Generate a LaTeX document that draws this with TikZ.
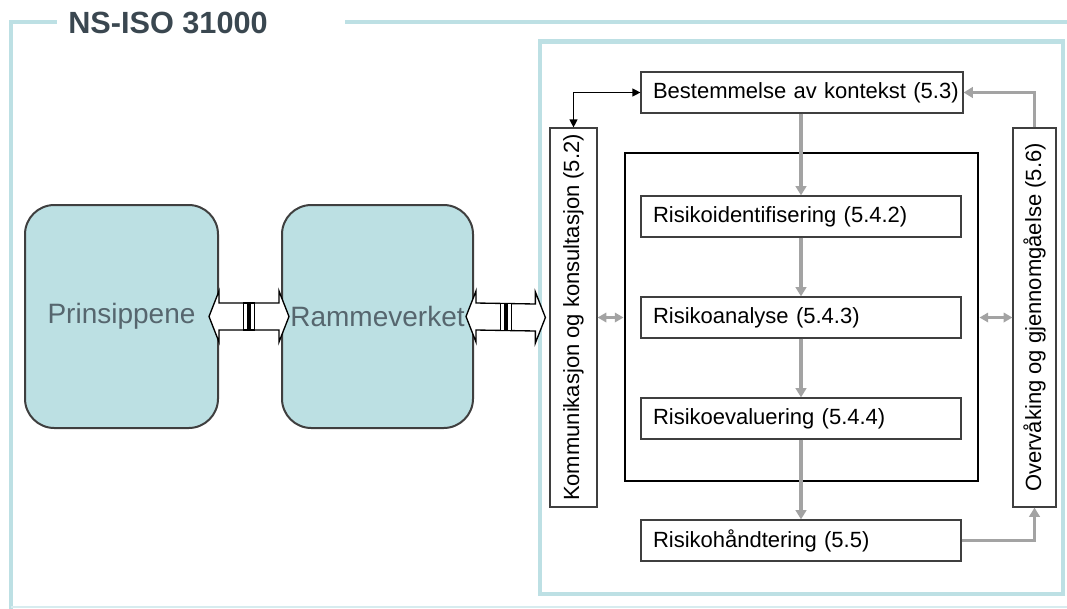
\documentclass[tikz,border=0pt]{standalone}
\usepackage{fontspec}
\setmainfont{Liberation Sans}
\usetikzlibrary{arrows.meta,calc}
\definecolor{frameteal}{HTML}{BDE0E4}
\definecolor{boxfill}{HTML}{BCE0E3}
\definecolor{flowgray}{HTML}{A3A3A3}
\definecolor{titlegray}{HTML}{3A4750}
\definecolor{softgray}{HTML}{56666E}
\definecolor{edgegray}{HTML}{3F3F3F}

\begin{document}
\begin{tikzpicture}[x=0.75pt,y=-0.75pt,
  frame/.style={draw=frameteal,line width=3pt},
  pillar/.style={draw=edgegray,line width=1.5pt,fill=boxfill,rounded corners=22pt,
    minimum width=144.75pt,minimum height=167.25pt,inner sep=0pt,
    font=\fontsize{21}{25}\selectfont,text=softgray},
  stepbox/.style={draw=edgegray,line width=0.9pt,minimum height=30.75pt,inner xsep=9pt,
    inner ysep=0pt,text width=222pt,align=left,font=\fontsize{16.5}{19}\selectfont},
  sidebox/.style={draw=edgegray,line width=0.9pt,minimum height=284.25pt,inner sep=0pt},
  sidetext/.style={rotate=90,font=\fontsize{16.5}{19}\selectfont,inner sep=0pt},
  flow/.style={draw=flowgray,line width=2.4pt,-{Triangle[length=7pt,width=8pt]}},
  swap/.style={draw=flowgray,line width=1.6pt,
    {Triangle[length=6.5pt,width=7pt]}-{Triangle[length=6.5pt,width=7pt]}},
  link/.style={draw=black,line width=0.9pt,
    {Triangle[length=6pt,width=6pt]}-{Triangle[length=6pt,width=6pt]}},
  fat/.style={draw=black,line width=1pt,fill=white,line join=miter},
]
\useasboundingbox (0,0) rectangle (1067,608);

% outer frame with the title in its gap
\draw[frame] (57,22) -- (11,22) -- (11,612);
\draw[frame] (345,22) -- (1072,22);
\draw[draw=frameteal!60,line width=1pt] (11,607) -- (1072,607);
\node[anchor=base west,inner sep=0pt,text=titlegray,font=\fontsize{23}{27}\selectfont\bfseries]
  (title) at (68,33) {NS-ISO 31000};

% process frame
\draw[frame,line width=3.4pt] (540,41.5) rectangle (1063,594);

% principles and framework
\node[pillar] (prin) at (121.5,316.5) {Prinsippene};
\node[pillar,minimum width=143.25pt] (ramm) at (377.5,316.5) {Rammeverket};

% side boxes and the assessment block
\node[sidebox,minimum width=35.25pt] (komm) at (573.5,317.5) {};
\node[sidetext] (kommtext) at (komm.center) {Kommunikasjon og konsultasjon (5.2)};
\node[sidebox,minimum width=32.25pt] (over) at (1034.5,317.5) {};
\node[sidetext] (overtext) at (over.center) {Overvåking og gjennomgåelse (5.6)};
\node[draw=black,line width=2.2pt,minimum width=264.75pt,minimum height=246pt,inner sep=0pt]
  (core) at (801.5,317) {};

% process steps
\node[stepbox,text width=223.5pt] (best) at (802,92.5) {\mbox{Bestemmelse av kontekst (5.3)}};
\node[stepbox] (ident) at (801,216.5) {Risikoidentifisering (5.4.2)};
\node[stepbox] (anal) at (801,317.5) {Risikoanalyse (5.4.3)};
\node[stepbox] (eval) at (801,418.5) {Risikoevaluering (5.4.4)};
\node[stepbox] (hand) at (801,540.5) {Risikohåndtering (5.5)};

% wide double arrows with a coupling in the middle
\path (prin.east) ++(-10,0) coordinate (f1a);
\path (ramm.west) ++(8,0) coordinate (f1b);
\path (ramm.east) ++(-8,0) coordinate (f2a);
\path (komm.west) ++(-4,0) coordinate (f2b);
\foreach \a/\b in {f1a/f1b,f2a/f2b}{
  \filldraw[fat] (\a) -- ++(10,-25.5) -- ++(0,12) -- ($(\b)+(-10,-13.5)$) -- ++(0,-12)
    -- (\b) -- ++(-10,25.5) -- ++(0,-12) -- ($(\a)+(10,13.5)$) -- ++(0,12) -- cycle;
  \coordinate (mid) at ($(\a)!0.5!(\b)$);
  \filldraw[draw=black,fill=white,line width=1pt] ($(mid)+(-5.5,-13.5)$) rectangle ($(mid)+(5.5,13.5)$);
  \fill[black] ($(mid)+(-2,-13.5)$) rectangle ($(mid)+(2,13.5)$);
}

% connectors
\draw[link] (komm.north) |- (best.west);
\draw[flow] (best.south -| ident.north) -- (ident.north);
\draw[flow] (ident.south) -- (anal.north);
\draw[flow] (anal.south) -- (eval.north);
\draw[flow] (eval.south) -- (hand.north);
\draw[flow] (hand.east) -| (over.south);
\draw[flow] (over.north) |- (best.east);
\draw[swap] (komm.east) -- (komm.east -| core.west);
\draw[swap] (over.west -| core.east) -- (over.west);
\end{tikzpicture}
\end{document}
